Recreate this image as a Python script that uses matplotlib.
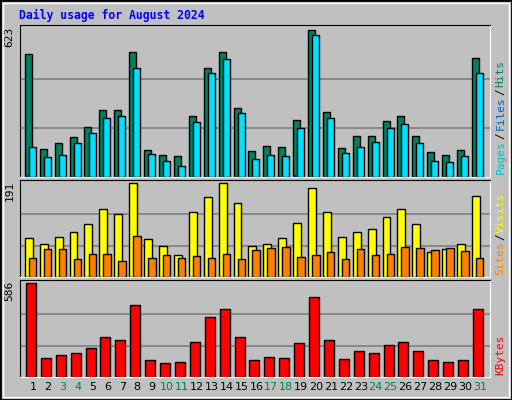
import matplotlib
matplotlib.use("Agg")
import matplotlib.pyplot as plt
from matplotlib.patches import Rectangle

days = list(range(1, 32))
weekend = {3, 4, 10, 11, 17, 18, 24, 25, 31}
hits = [520, 117, 143, 168, 210, 282, 282, 528, 113, 92, 87, 257, 462, 528, 291, 109,
        130, 126, 240, 621, 274, 121, 172, 172, 236, 257, 172, 104, 92, 113, 503]
files = [126, 83, 92, 143, 185, 249, 257, 459, 96, 66, 45, 233, 437, 500, 270, 75,
         92, 87, 206, 600, 249, 100, 126, 147, 206, 223, 143, 66, 62, 87, 440]
pages = [8, 0, 0, 0, 0, 0, 0, 0, 0, 0, 0, 0, 0, 0, 0, 0,
         0, 0, 8, 0, 0, 0, 0, 0, 0, 0, 0, 0, 0, 0, 2]
visits = [79, 67, 81, 92, 108, 137, 127, 191, 77, 63, 44, 131, 162, 191, 150, 63,
          67, 79, 110, 181, 131, 81, 92, 98, 121, 137, 108, 50, 57, 67, 164]
sites = [38, 57, 57, 36, 46, 46, 32, 83, 38, 44, 38, 42, 38, 46, 36, 54,
         59, 61, 40, 44, 50, 36, 57, 44, 46, 61, 59, 54, 59, 52, 38]
kbytes = [586, 118, 137, 150, 182, 246, 233, 451, 105, 86, 92, 220, 374, 426, 246, 105,
          124, 118, 214, 496, 233, 111, 163, 150, 201, 220, 163, 105, 92, 105, 426]

BG = "#C0C0C0"
MONO = "DejaVu Sans Mono"

fig = plt.figure(figsize=(5.12, 4.0), dpi=100, facecolor=BG)
fig.patches.append(Rectangle((0, 0), 1, 1, transform=fig.transFigure,
                             fill=False, edgecolor="black", lw=2))
fig.patches.append(Rectangle((0.006, 0.008), 0.988, 0.985, transform=fig.transFigure,
                             fill=False, edgecolor="white", lw=1))
fig.text(0.037, 0.962, "Daily usage for August 2024", color="#0000FF",
         family=MONO, weight="bold", fontsize=8.3, va="center")
renderer = fig.canvas.get_renderer()


def panel(bottom, height, ymax):
    ax = fig.add_axes([0.039, bottom, 0.918, height])
    ax.set_facecolor(BG)
    ax.set_xlim(0.13, 31.67)
    ax.set_ylim(0, ymax * 1.03)
    for y in (ymax / 3, ymax * 2 / 3):
        ax.axhline(y, color="#808080", lw=1.2, zorder=0)
    ax.set_xticks([])
    ax.set_yticks([])
    for s in ax.spines.values():
        s.set_color("black")
    ax.spines["bottom"].set_color("white")
    ax.spines["right"].set_color("white")
    ax.text(-0.012, 0.99, str(ymax), transform=ax.transAxes, rotation=90,
            ha="right", va="top", fontsize=8, family=MONO)
    return ax


def side_label(ax, parts):
    # stack rotated coloured pieces upward from the bottom right
    y = 0.02
    h = ax.get_window_extent().height
    for t, c in parts:
        txt = ax.text(1.012, y, t, transform=ax.transAxes, rotation=90, color=c,
                      ha="left", va="bottom", fontsize=8, family=MONO)
        y += txt.get_window_extent(renderer).height / h + 0.01


kw = dict(edgecolor="black", linewidth=1, align="edge")

ax1 = panel(0.5575, 0.38, 623)
ax1.bar([d - 0.54 for d in days], hits, 0.47, color="#008060", **kw)
ax1.bar([d - 0.27 for d in days], files, 0.47, color="#00E0FF", **kw)
ax1.bar([d - 0.54 for d in days], pages, 0.2, color="#0000FF", align="edge")
side_label(ax1, [("Pages", "#00C0C0"), ("/", "#000000"), ("Files", "#0060C0"),
                 ("/", "#000000"), ("Hits", "#008060")])

ax2 = panel(0.3075, 0.2425, 191)
ax2.bar([d - 0.54 for d in days], visits, 0.53, color="#FFFF00", **kw)
ax2.bar([d - 0.27 for d in days], sites, 0.5, color="#FF8000", **kw)
side_label(ax2, [("Sites", "#FF8000"), ("/", "#000000"), ("Visits", "#FFFF00")])

ax3 = panel(0.0575, 0.2425, 586)
ax3.bar([d - 0.47 for d in days], kbytes, 0.67, color="#FF0000", **kw)
side_label(ax3, [("KBytes", "#FF0000")])
for d in days:
    ax3.text(d, -0.1, str(d), transform=ax3.get_xaxis_transform(), ha="center",
             va="center", fontsize=8, color="#008040" if d in weekend else "black")

fig.savefig("out.png", dpi=100, facecolor=BG)
